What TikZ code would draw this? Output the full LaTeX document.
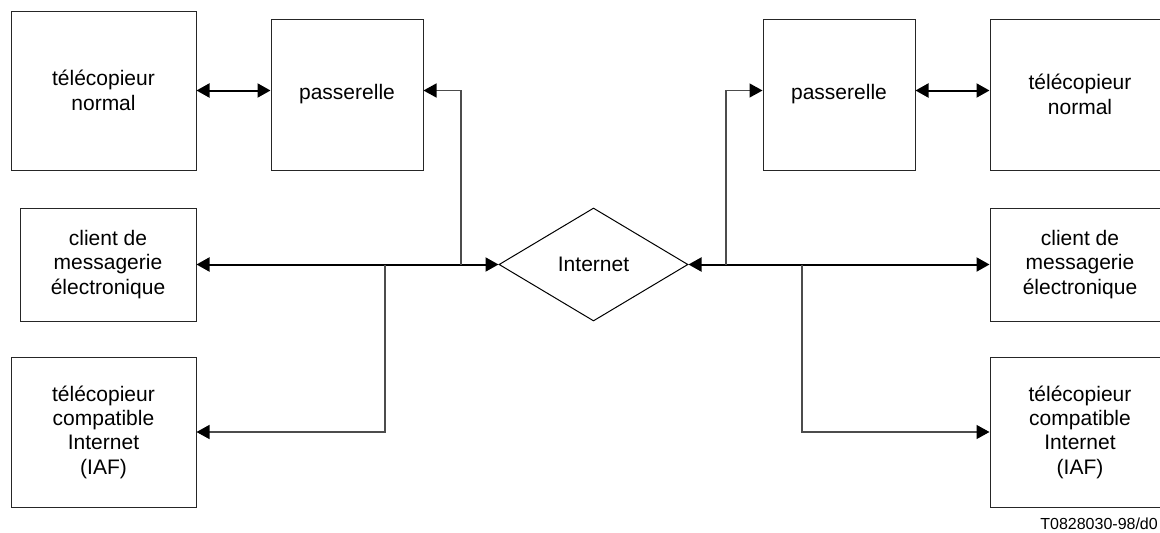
\documentclass[tikz,border=0pt]{standalone}
\usepackage{fontspec}
\setmainfont{Liberation Sans}
\usetikzlibrary{arrows.meta,shapes.geometric}
\begin{document}
\begin{tikzpicture}[x=1pt,y=-1pt,
  box/.style={draw=black!85,line width=1pt,inner sep=0pt,align=center,
    font=\fontsize{21}{24.3}\selectfont},
  tip/.style={-{Triangle[length=13pt,width=14pt,color=black]}},
  bus/.style={line width=2pt,black},
  feed/.style={line width=1.4pt,black!70}]
\clip (0,0) rectangle (1160,533);
\fill[white] (0,0) rectangle (1160,533);
% left column
\node[box,minimum width=185,minimum height=159] (ltn) at (103.5,90.5) {télécopieur\\normal};
\node[box,minimum width=152,minimum height=151] (lpa) at (347,94.5) {passerelle};
\node[box,minimum width=176,minimum height=113] (lcl) at (108,264.5) {client de\\messagerie\\électronique};
\node[box,minimum width=185,minimum height=150] (lia) at (103.5,432) {télécopieur\\compatible\\Internet\\(IAF)};
% centre
\node[box,draw=black,shape=diamond,shape aspect=1.67,minimum width=189,minimum height=113] (inet) at (593.5,264.5) {Internet};
% right column
\node[box,minimum width=152,minimum height=151] (rpa) at (839,94.5) {passerelle};
\node[box,minimum width=180,minimum height=151] (rtn) at (1080,94.5) {télécopieur\\normal};
\node[box,minimum width=180,minimum height=113] (rcl) at (1080,264.5) {client de\\messagerie\\électronique};
\node[box,minimum width=180,minimum height=150] (ria) at (1080,432) {télécopieur\\compatible\\Internet\\(IAF)};
% junctions
\coordinate (jl1) at (385,264.5);
\coordinate (jl2) at (461,264.5);
\coordinate (jr1) at (726,264.5);
\coordinate (jr2) at (802,264.5);
% connectors left
\draw[bus,{Triangle[length=13pt,width=14pt]}-{Triangle[length=13pt,width=14pt]}] (ltn.east |- 0,90.5) -- (lpa.west |- 0,90.5);
\draw[bus,{Triangle[length=13pt,width=14pt]}-{Triangle[length=13pt,width=14pt]}] (lcl.east) -- (inet.west);
\draw[feed,tip] (jl2) |- (lpa.east |- 0,90.5);
\draw[feed,tip] (jl1) |- (lia.east);
% connectors right
\draw[bus,{Triangle[length=13pt,width=14pt]}-{Triangle[length=13pt,width=14pt]}] (rpa.east |- 0,90.5) -- (rtn.west |- 0,90.5);
\draw[bus,{Triangle[length=13pt,width=14pt]}-{Triangle[length=13pt,width=14pt]}] (inet.east) -- (rcl.west);
\draw[feed,tip] (jr1) |- (rpa.west |- 0,90.5);
\draw[feed,tip] (jr2) |- (ria.west);
% reference label
\node[anchor=east,inner sep=0pt,font=\fontsize{16}{18}\selectfont] (ref) at (1158,524) {T0828030-98/d0};
\end{tikzpicture}
\end{document}
